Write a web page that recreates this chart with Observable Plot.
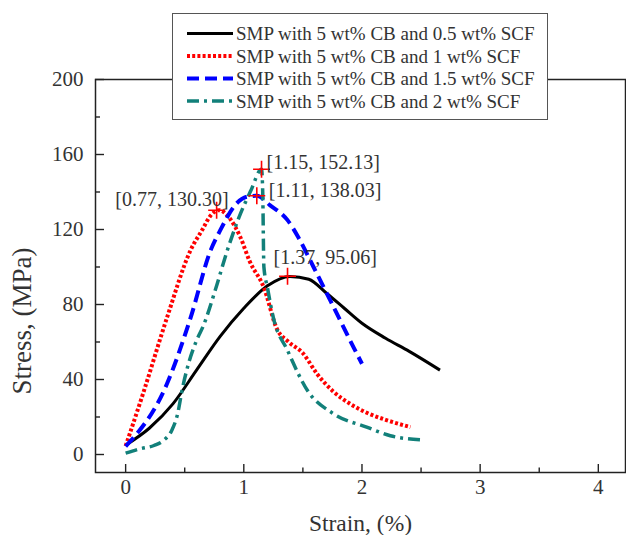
<!DOCTYPE html>
<html>
<head>
<meta charset="utf-8">
<script src="https://cdn.jsdelivr.net/npm/d3@7"></script>
<script src="https://cdn.jsdelivr.net/npm/@observablehq/plot@0.6"></script>
<style>
  body { margin: 0; background: white; }
  #wrap { position: relative; width: 626px; height: 535px; font-family: 'Liberation Serif', 'Times New Roman', 'DejaVu Serif', serif; }
  #legend { position: absolute; left: 172px; top: 13px; width: 374px; height: 105px; background: white; border: 1.5px solid #555; }
  #wrap svg text { font-family: 'Liberation Serif', 'Times New Roman', 'DejaVu Serif', serif; }
</style>
</head>
<body>
<div id="wrap"><div id="legend"></div></div>
<script>
// ---- data ----
const seriesNames = [
  "SMP with 5 wt% CB and 0.5 wt% SCF",
  "SMP with 5 wt% CB and 1 wt% SCF",
  "SMP with 5 wt% CB and 1.5 wt% SCF",
  "SMP with 5 wt% CB and 2 wt% SCF"
];
const strain05 = [0, 0.2, 0.4, 0.6, 0.8, 1.0, 1.2, 1.39, 1.55, 1.7, 1.85, 2.0, 2.2, 2.4, 2.66];
const stress05 = [5, 14, 27, 45, 63, 78, 90, 95, 93.5, 86, 78, 70, 62, 55, 45];
const strain1 = [0, 0.15, 0.35, 0.55, 0.65, 0.72, 0.79, 0.88, 0.97, 1.05, 1.17, 1.28, 1.38, 1.5, 1.62, 1.75, 1.9, 2.05, 2.2, 2.41];
const stress1 = [4.5, 33, 73, 109, 120, 127.5, 130.3, 126, 116, 103, 89, 67, 60, 54, 43, 34, 27, 22, 18.5, 14.6];
const strain15 = [0, 0.35, 0.55, 0.72, 0.8, 0.94, 1.03, 1.11, 1.22, 1.37, 1.46, 1.59, 1.76, 1.93, 2.0];
const stress15 = [4.3, 37.7, 73, 109, 119.5, 134, 137.5, 138, 133, 125, 116, 100, 78.6, 57, 48.4];
const strain2 = [0, 0.12, 0.24, 0.32, 0.39, 0.44, 0.48, 0.53, 0.6, 0.66, 0.76, 0.86, 0.96, 1.06, 1.15, 1.16, 1.17, 1.2, 1.25, 1.37, 1.54, 1.76, 2.04, 2.24, 2.51];
const stress2 = [0.7, 3, 4.8, 7.5, 12.8, 21.7, 35, 48, 60.8, 69, 88, 108.8, 126.6, 140.8, 152.1, 140, 100, 89, 73, 55.5, 34, 21.7, 14.6, 10, 7.8];
const peakStrain = [1.37, 0.77, 1.11, 1.15];
const peakStress = [95.06, 130.30, 138.03, 152.13];
const xTicks = [0, 1, 2, 3, 4];
const xMinorTicks = [0.5, 1.5, 2.5, 3.5];
const yTicks = [0, 40, 80, 120, 160, 200];
const yMinorTicks = [20, 60, 100, 140, 180];
const xTitle = "Strain, (%)";
const yTitle = "Stress, (MPa)";

// ---- styles ----
const colors = ["#000000", "#ff0000", "#0000ff", "#12807a"];
const dashes = [null, "3,2.2", "12,6", "12,5,3,5"];
const widths = [3, 4, 4, 3.5];
const font = "'Liberation Serif', 'Times New Roman', 'DejaVu Serif', serif";

const strains = [strain05, strain1, strain15, strain2];
const stresses = [stress05, stress1, stress15, stress2];
const rows = [];
strains.forEach((xs, s) => xs.forEach((x, i) => rows.push({series: s, strain: x, stress: stresses[s][i]})));
const peaks = peakStrain.map((x, i) => ({series: i, strain: x, stress: peakStress[i], label: `[${x.toFixed(2)}, ${peakStress[i].toFixed(2)}]`}));

const lineMarks = seriesNames.map((n, s) => Plot.line(rows.filter(r => r.series === s), {
  x: "strain", y: "stress", stroke: colors[s], strokeWidth: widths[s],
  strokeDasharray: dashes[s], curve: "monotone-x", strokeLinecap: "butt"
}));

const annot = (i, opts) => Plot.text(peaks.filter(p => p.series === i), {
  x: "strain", y: "stress", text: "label", fill: "#333", fontSize: 20, lineAnchor: "middle", ...opts
});

const chart = Plot.plot({
  width: 626, height: 535,
  marginLeft: 95, marginRight: 1, marginTop: 79, marginBottom: 63,
  style: {fontFamily: font, fontSize: "21px", color: "#333", background: "white", overflow: "visible"},
  x: {domain: [-0.255, 4.23]},
  y: {domain: [-9.6, 200]},
  marks: [
    ...lineMarks,
    Plot.dot(peaks, {x: "strain", y: "stress", symbol: "plus", r: 5.5, stroke: "#ff0000", strokeWidth: 1.6}),
    annot(3, {dx: 5, dy: -7, textAnchor: "start"}),
    annot(2, {dx: 12, dy: -5, textAnchor: "start"}),
    annot(1, {dx: 12, dy: -11, textAnchor: "end"}),
    annot(0, {dx: -14, dy: -19, textAnchor: "start"}),
    Plot.frame({stroke: "#222", strokeWidth: 1.5}),
    // inward ticks: shift the outward tick back into the frame by its own length
    Plot.axisX({ticks: xTicks, tickSize: 8, dy: -8, fill: "none", label: null, stroke: "#222", strokeWidth: 1.4}),
    Plot.axisX({ticks: xMinorTicks, tickSize: 4.5, dy: -4.5, fill: "none", label: null, stroke: "#222", strokeWidth: 1.4}),
    Plot.axisX({ticks: xTicks, tickSize: 0, tickPadding: 7, tickFormat: d => String(d), label: null, fill: "#333", fontSize: 21}),
    Plot.axisY({ticks: yTicks, tickSize: 9, dx: 9, fill: "none", label: null, stroke: "#222", strokeWidth: 1.4}),
    Plot.axisY({ticks: yMinorTicks, tickSize: 5, dx: 5, fill: "none", label: null, stroke: "#222", strokeWidth: 1.4}),
    Plot.axisY({ticks: yTicks, tickSize: 0, tickPadding: 12, tickFormat: d => String(d), label: null, fill: "#333", fontSize: 21}),
    Plot.text([xTitle], {frameAnchor: "bottom", text: d => d, dy: 51, lineAnchor: "middle", fontSize: 23.5, fill: "#333"}),
    Plot.text([yTitle], {frameAnchor: "left", text: d => d, dx: -73, dy: 45, rotate: -90, lineAnchor: "middle", textAnchor: "middle", fontSize: 27, fill: "#333"})
  ]
});
const wrap = document.getElementById("wrap");
wrap.insertBefore(chart, wrap.firstChild);

// ---- legend ----
const lg = d3.select("#legend").append("svg").attr("width", 374).attr("height", 105)
  .style("position", "absolute").style("left", 0).style("top", 0);
seriesNames.forEach((name, s) => {
  const y = 19.5 + s * 22.5;
  lg.append("line").attr("x1", 14).attr("x2", 60).attr("y1", y).attr("y2", y)
    .attr("stroke", colors[s]).attr("stroke-width", widths[s])
    .attr("stroke-dasharray", dashes[s]);
  lg.append("text").attr("x", 63).attr("y", y).attr("dy", "0.35em")
    .attr("font-family", font).attr("font-size", 19).attr("fill", "#333").text(name);
});
</script>
</body>
</html>
